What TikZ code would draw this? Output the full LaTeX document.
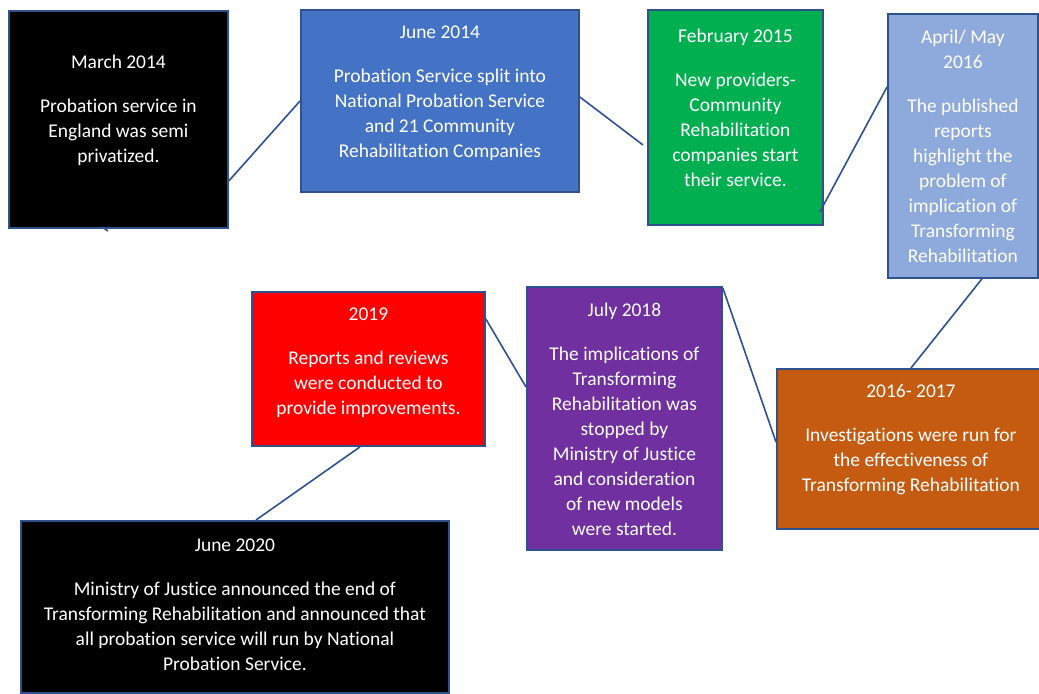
\documentclass[tikz,border=0pt]{standalone}
\usepackage{fontspec}
\setmainfont{Carlito}[RawFeature={-liga}]
\usepackage{xcolor}
\usepackage{tikz}
\usetikzlibrary{positioning}

\definecolor{edgeblue}{HTML}{2F528F}
\definecolor{boxblue}{HTML}{4472C4}
\definecolor{boxgreen}{HTML}{00B050}
\definecolor{boxlight}{HTML}{8EA9DB}
\definecolor{boxorange}{HTML}{C55A11}
\definecolor{boxpurple}{HTML}{7030A0}
\definecolor{boxred}{HTML}{FF0000}

\begin{document}
\begin{tikzpicture}[x=0.75pt, y=-0.75pt,
    event/.style={rectangle, draw=edgeblue, line width=1.4pt, anchor=north west},
    eventtext/.style={align=center, text=white, font=\fontsize{14.6}{18.75}\selectfont},
    link/.style={draw=edgeblue, line width=1.2pt}]
    \useasboundingbox (0,0) rectangle (1039,693);

    % boxes
    \node [event, fill=black, minimum width=164.25pt, minimum height=162.75pt] (mar14) at (8,10) {};
    \node [event, fill=boxblue, minimum width=208.5pt, minimum height=136.5pt] (jun14) at (300,9) {};
    \node [event, fill=boxgreen, minimum width=131.25pt, minimum height=161.25pt] (feb15) at (647,9) {};
    \node [event, fill=boxlight, minimum width=112.5pt, minimum height=198pt] (apr16) at (887,13) {};
    \node [event, fill=boxorange, minimum width=201pt, minimum height=120pt] (y1617) at (776,368) {};
    \node [event, fill=boxpurple, minimum width=146.25pt, minimum height=197.25pt] (jul18) at (526,286) {};
    \node [event, fill=boxred, minimum width=174.75pt, minimum height=115.5pt] (r2019) at (251,291) {};
    \node [event, fill=black, minimum width=321pt, minimum height=129pt] (jun20) at (20,520) {};

    % texts
    \node [eventtext] (mar14-t) at ([yshift=7pt]mar14.center) {March 2014\\[14.25pt]Probation service in\\England was semi\\privatized.};
    \node [eventtext] (jun14-t) at ([yshift=6pt]jun14.center) {June 2014\\[14.25pt]Probation Service split into\\National Probation Service\\and 21 Community\\Rehabilitation Companies};
    \node [eventtext] (feb15-t) at ([yshift=7.5pt]feb15.center) {February 2015\\[14.25pt]New providers-\\Community\\Rehabilitation\\companies start\\their service.};
    \node [eventtext] (apr16-t) at ([yshift=-0.5pt]apr16.center) {April/ May\\2016\\[14.25pt]The published\\reports\\highlight the\\problem of\\implication of\\Transforming\\Rehabilitation};
    \node [eventtext] (y1617-t) at ([yshift=7pt]y1617.center) {2016- 2017\\[14.25pt]Investigations were run for\\the effectiveness of\\Transforming Rehabilitation};
    \node [eventtext] (jul18-t) at ([yshift=-1pt]jul18.center) {July 2018\\[14.25pt]The implications of\\Transforming\\Rehabilitation was\\stopped by\\Ministry of Justice\\and consideration\\of new models\\were started.};
    \node [eventtext] (r2019-t) at ([yshift=4.5pt]r2019.center) {2019\\[14.25pt]Reports and reviews\\were conducted to\\provide improvements.};
    \node [eventtext] (jun20-t) at ([yshift=2pt]jun20.center) {June 2020\\[14.25pt]Ministry of Justice announced the end of\\Transforming Rehabilitation and announced that\\all probation service will run by National\\Probation Service.};

    % connectors
    \coordinate (stub) at (108,231);
    \draw [link] ([xshift=70.5pt, yshift=1.5pt]mar14.south west) -- (stub);
    \draw [link] ([yshift=36pt]mar14.south east) -- ([yshift=-69pt]jun14.north west);
    \draw [link] ([yshift=-66pt]jun14.north east) -- ([xshift=-3pt, yshift=-102pt]feb15.north west);
    \draw [link] ([xshift=-3pt, yshift=10.5pt]feb15.south east) -- ([yshift=-55.5pt]apr16.north west);
    \draw [link] ([xshift=14.25pt]apr16.south) -- ([xshift=101.25pt]y1617.north west);
    \draw [link] ([yshift=-55.5pt]y1617.north west) -- ([yshift=-1.5pt]jul18.north east);
    \draw [link] ([yshift=-75.75pt]jul18.north west) -- ([yshift=-21pt]r2019.north east);
    \draw [link] ([xshift=81.75pt]r2019.south west) -- ([xshift=177pt]jun20.north west);
\end{tikzpicture}
\end{document}
